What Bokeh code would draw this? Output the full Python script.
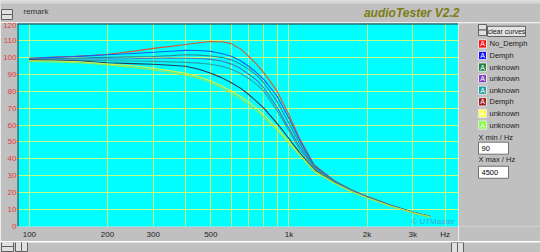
from bokeh.plotting import figure
from bokeh.layouts import column, row
from bokeh.models import Label, FixedTicker, Range1d, Span
from bokeh.embed import file_html
from bokeh.resources import INLINE
from bokeh.core.properties import value

# ---------------- data ----------------
freqs = [100, 125, 150, 175, 200, 250, 300, 350, 400, 450, 500, 550, 600, 650,
         700, 750, 800, 900, 1000, 1100, 1250, 1500, 1750, 2000, 2500, 3000, 3500]

no_demph = [99.5, 100.2, 100.6, 101.2, 101.8, 103.5, 105.3, 106.5, 107.6, 108.6, 109.4, 109.2, 108.0, 105.0,
            100.6, 96.0, 91.0, 80.0, 66.0, 52.0, 36.5, 27.0, 21.5, 17.8, 12.3, 8.6, 6.0]
demph = [99.5, 100.0, 100.4, 101.0, 101.5, 102.3, 103.0, 103.6, 104.1, 104.0, 103.5, 102.3, 100.6, 98.0,
         94.7, 91.0, 87.0, 77.0, 64.0, 51.0, 36.0, 26.8, 21.3, 17.6, 12.2, 8.5, 5.9]
unknown_1 = [99.0, 99.2, 99.5, 99.8, 100.0, 100.3, 100.5, 101.0, 101.5, 101.3, 100.8, 100.0, 98.5, 96.0,
             93.0, 89.5, 85.0, 74.0, 61.0, 49.0, 35.5, 26.6, 21.2, 17.5, 12.1, 8.4, 5.9]
unknown_2 = [99.0, 99.0, 99.0, 99.0, 99.0, 99.2, 99.5, 99.6, 99.5, 99.3, 98.8, 97.8, 96.0, 93.5,
             90.0, 86.5, 82.0, 70.5, 58.0, 47.0, 35.0, 26.4, 21.0, 17.4, 12.0, 8.4, 5.8]
unknown_3 = [98.5, 98.4, 98.2, 98.1, 98.0, 97.8, 97.6, 97.3, 97.0, 96.6, 95.9, 94.8, 93.0, 90.5,
             87.5, 84.0, 80.0, 68.5, 56.5, 45.5, 34.5, 26.2, 20.9, 17.3, 12.0, 8.3, 5.8]
demph_2 = [98.5, 98.3, 98.0, 97.4, 96.8, 96.3, 95.9, 95.3, 94.7, 93.0, 90.6, 88.0, 85.0, 81.8,
           78.0, 74.0, 70.0, 61.0, 52.0, 43.5, 33.5, 25.8, 20.6, 17.1, 11.9, 8.2, 5.7]
unknown_4 = [98.0, 97.8, 97.5, 96.8, 96.0, 95.0, 93.5, 92.0, 90.5, 88.5, 86.0, 83.0, 80.0, 77.0,
             73.5, 70.0, 66.0, 58.0, 50.0, 42.5, 33.0, 25.6, 20.5, 17.0, 11.8, 8.2, 5.7]
unknown_5 = [97.5, 97.2, 96.8, 96.2, 95.5, 94.0, 92.5, 91.0, 89.5, 87.5, 85.0, 82.0, 78.5, 75.5,
             72.0, 68.5, 64.5, 57.0, 49.0, 42.0, 32.5, 25.4, 20.4, 16.9, 11.7, 8.1, 5.6]

series = [no_demph, demph, unknown_1, unknown_2, unknown_3, demph_2, unknown_4, unknown_5]
legend_names = ["No_Demph", "Demph", "unknown", "unknown", "unknown", "Demph", "unknown", "unknown"]
legend_colors = ["#ff1010", "#1010ff", "#208040", "#8040c0", "#20a0a0", "#a02020", "#ffff40", "#80ff40"]
line_colors = ["#d85a30", "#1060f0", "#2090a0", "#4878b8", "#30a0a8", "#243a58", "#e0ee40", "#98e850"]

y_ticks = list(range(0, 121, 10))
x_ticks = [100, 200, 300, 500, 1000, 2000, 3000, 4000]
x_tick_labels = ["100", "200", "300", "500", "1k", "2k", "3k", "Hz"]
x_grid = [100, 200, 300, 400, 500, 600, 700, 800, 900, 1000, 2000, 3000, 4000]
x_min, x_max = 90, 4500

GRAY = "#c0c0c0"
FONT = "Liberation Sans"


def panel(w, h, x0, x1, y0, y1):
    f = figure(width=w, height=h, x_range=Range1d(x0, x1), y_range=Range1d(y1, y0),
               output_backend="svg", toolbar_location=None,
               x_axis_location=None, y_axis_location=None,
               min_border=0, min_border_left=0, min_border_right=0,
               min_border_top=0, min_border_bottom=0)
    f.background_fill_color = GRAY
    f.border_fill_color = GRAY
    f.outline_line_color = None
    f.grid.visible = False
    return f


def txt(f, x, y, s, size="8px", color="#000000", style="normal", font=FONT, align="left"):
    f.text(x=[x], y=[y], text=[s], text_font_size=size, text_color=color,
           text_font_style=style, text_font=value(font), text_align=align,
           text_baseline="middle")


def box(f, l, t, r, b, fill, line="#606060"):
    f.quad(left=[l], right=[r], top=[t], bottom=[b], fill_color=fill,
           line_color=line, line_width=1)


# ---------------- top strip ----------------
top = panel(540, 22, 0, 540, 0, 22)
box(top, 0, 0, 540, 3, "#d8d8d8", None)
box(top, 1, 9, 12, 14, "#e0e0e0")
box(top, 1, 14, 12, 19, "#e0e0e0")
txt(top, 23, 11, "remark", size="8px", color="#303030")
txt(top, 459, 12, "audioTester V2.2", size="12px", color="#7c7c14", style="bold italic",
    font="Liberation Sans", align="right")

# ---------------- chart ----------------
p = figure(width=458, height=219, x_axis_type="log",
           x_range=Range1d(x_min, x_max), y_range=Range1d(0, 120),
           output_backend="svg", toolbar_location=None,
           min_border_left=14, min_border_right=0, min_border_top=1, min_border_bottom=13)
p.background_fill_color = "#00ffff"
p.border_fill_color = GRAY
p.outline_line_color = None

p.xgrid.ticker = FixedTicker(ticks=x_grid)
p.ygrid.ticker = FixedTicker(ticks=y_ticks)
for g in (p.xgrid, p.ygrid):
    g.grid_line_color = "#c8fc80"
    g.grid_line_width = 1
    g.grid_line_alpha = 1

p.xaxis.ticker = FixedTicker(ticks=x_ticks, minor_ticks=[])
p.xaxis.major_label_overrides = {t: l for t, l in zip(x_ticks, x_tick_labels)}
p.yaxis.ticker = FixedTicker(ticks=y_ticks, minor_ticks=[])
for ax in (p.xaxis, p.yaxis):
    ax.axis_line_color = None
    ax.major_tick_line_color = None
    ax.minor_tick_line_color = None
    ax.major_tick_out = 0
    ax.major_tick_in = 0
    ax.major_label_text_font = FONT
p.xaxis.major_label_text_font_size = "8px"
p.xaxis.major_label_text_color = "#202020"
p.xaxis.major_label_standoff = 3
p.yaxis.major_label_text_font_size = "8px"
p.yaxis.major_label_text_color = "#e03c3c"
p.yaxis.major_label_standoff = 1

# sunken frame edges: dark top/left
p.add_layout(Span(location=120, dimension="width", line_color="#303030", line_width=2))
p.add_layout(Span(location=x_min, dimension="height", line_color="#303030", line_width=2))

for ys, c in zip(series, line_colors):
    p.line(freqs, ys, line_color=c, line_width=1.1)

p.add_layout(Label(x=454, y=199, x_units="canvas", y_units="canvas", text="© UTMaster",
                   text_font_size="8px", text_color="#3aa8dc", text_font=FONT,
                   text_align="right", text_baseline="middle"))

# ---------------- right panel ----------------
rp = panel(82, 219, 458, 540, 22, 241)
box(rp, 478, 23, 486, 29, "#e0e0e0")
box(rp, 478, 29, 486, 35, "#e0e0e0")
box(rp, 487, 25, 525, 36, "#e4e4e4")
txt(rp, 506, 30.5, "clear curves", size="7px", color="#202020", align="center")

for i, (name, col) in enumerate(zip(legend_names, legend_colors)):
    yc = 44 + i * 12.5
    box(rp, 478, yc - 4.5, 486, yc + 4.5, col, "#e8e8e8")
    txt(rp, 482, yc, "A", size="7px", color="#ffffff", align="center")
    txt(rp, 489, yc, name, size="7.5px", color="#202020")

txt(rp, 478, 145, "X min / Hz", size="7.5px", color="#202020")
box(rp, 478, 150, 508, 163, "#ffffff", "#707070")
txt(rp, 481, 156.5, str(x_min), size="7.5px", color="#000000")
txt(rp, 478, 169, "X max / Hz", size="7.5px", color="#202020")
box(rp, 478, 176, 508, 189, "#ffffff", "#707070")
txt(rp, 481, 182.5, str(x_max), size="7.5px", color="#000000")

# ---------------- bottom strip ----------------
bt = panel(540, 11, 0, 540, 241, 252)
box(bt, 1, 240, 13, 245, "#e0e0e0")
box(bt, 1, 245, 13, 250, "#e0e0e0")
box(bt, 15, 240, 21, 250, "#e0e0e0")
box(bt, 21, 240, 27, 250, "#e0e0e0")
box(bt, 451, 241, 457, 251, "#e0e0e0")
box(bt, 457, 241, 463, 251, "#e0e0e0")

layout = column(top, row(p, rp, spacing=0), bt, spacing=0)
open("out.html", "w").write(file_html(layout, INLINE))
